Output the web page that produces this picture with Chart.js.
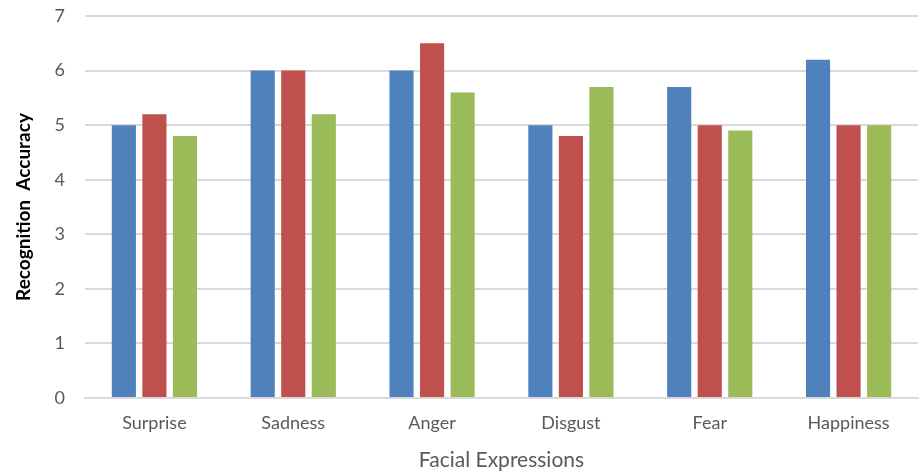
<!DOCTYPE html>
<html>
<head>
<meta charset="utf-8">
<script src="https://cdn.jsdelivr.net/npm/chart.js@4/dist/chart.umd.min.js"></script>
<style>
  html, body { margin: 0; padding: 0; background: #fff; }
  #wrap { width: 920px; height: 475px; }
</style>
</head>
<body>
<div id="wrap"><canvas id="c" width="920" height="475"></canvas></div>
<script>
// Facial expression categories and recognition accuracy per method
const categories = ['Surprise', 'Sadness', 'Anger', 'Disgust', 'Fear', 'Happiness'];
const seriesA = [5.0, 6.0, 6.0, 5.0, 5.7, 6.2];
const seriesB = [5.2, 6.0, 6.5, 4.8, 5.0, 5.0];
const seriesC = [4.8, 5.2, 5.6, 5.7, 4.9, 5.0];
const yTicks = [0, 1, 2, 3, 4, 5, 6, 7];

const FONT = 'Lato, "Open Sans", sans-serif';
const TEXT = '#595959';
const GRID = '#d9d9d9';

function ds(label, data, color) {
  return {
    label, data,
    backgroundColor: color,
    borderWidth: 0,
    categoryPercentage: 0.66,
    barPercentage: 0.79
  };
}

new Chart(document.getElementById('c'), {
  type: 'bar',
  data: {
    labels: categories,
    datasets: [
      ds('A', seriesA, '#4f81bd'),
      ds('B', seriesB, '#c0504d'),
      ds('C', seriesC, '#9bbb59')
    ]
  },
  options: {
    responsive: false,
    animation: false,
    layout: { padding: { left: 12, right: 2, top: 16, bottom: 2 } },
    plugins: { legend: { display: false }, tooltip: { enabled: false } },
    scales: {
      x: {
        grid: { display: false, drawTicks: false },
        border: { display: true, color: GRID, width: 2 },
        ticks: { color: TEXT, font: { family: FONT, size: 18 }, padding: 14 },
        title: { display: true, text: 'Facial Expressions', color: TEXT,
                 font: { family: FONT, size: 21 }, padding: { top: 10, bottom: 0 } },
        afterFit: s => { s.height = 75; }
      },
      y: {
        min: 0, max: 7,
        afterBuildTicks: s => { s.ticks = yTicks.map(v => ({ value: v })); },
        grid: { color: GRID, lineWidth: 2, drawTicks: false },
        border: { display: false },
        ticks: { color: TEXT, font: { family: FONT, size: 18 }, padding: 20 },
        title: { display: true, text: 'Recognition  Accuracy', color: '#000',
                 font: { family: FONT, size: 19, weight: 'bold' }, padding: { top: 0, bottom: 10 } },
        afterFit: s => { s.width = 73; s.paddingTop = 0; s.paddingBottom = 0; }
      }
    }
  }
});
</script>
</body>
</html>
